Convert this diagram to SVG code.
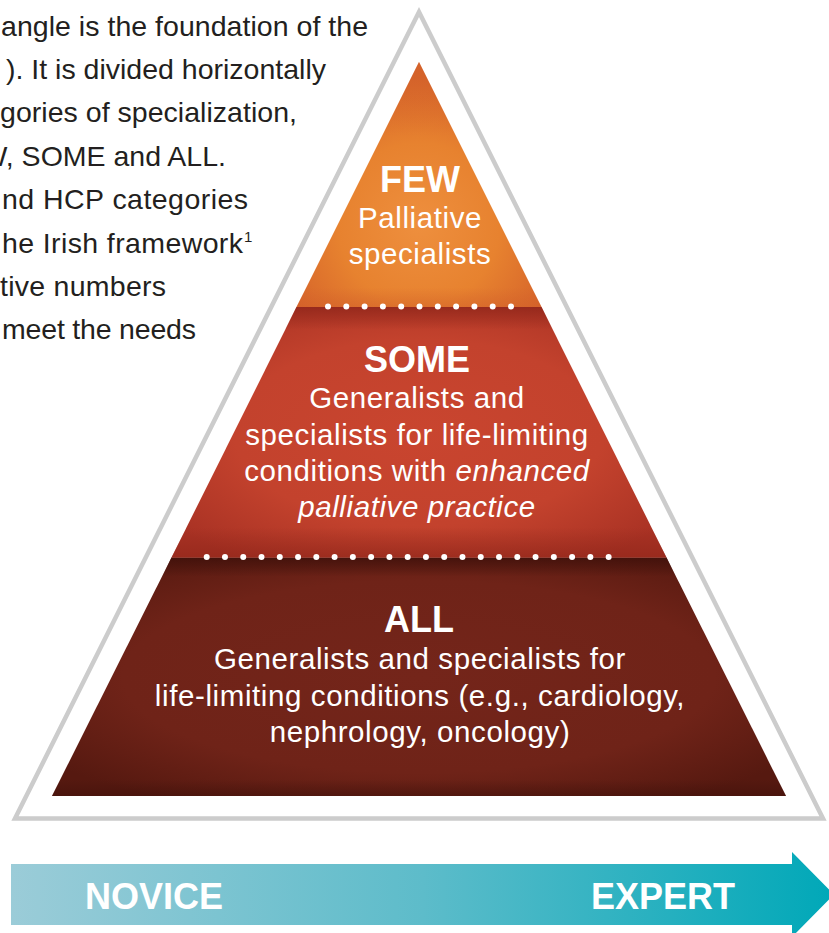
<svg xmlns="http://www.w3.org/2000/svg" width="829" height="933" viewBox="0 0 829 933">
  <defs>
    <radialGradient id="gFew" cx="0.5" cy="0.66" r="0.6">
      <stop offset="0" stop-color="#EE8F3E"/>
      <stop offset="0.55" stop-color="#E7822F"/>
      <stop offset="1" stop-color="#D6642A"/>
    </radialGradient>
    <radialGradient id="gSome" cx="0.5" cy="0.5" r="0.62">
      <stop offset="0" stop-color="#C9452F"/>
      <stop offset="0.6" stop-color="#C3422D"/>
      <stop offset="1" stop-color="#A93224"/>
    </radialGradient>
    <radialGradient id="gAll" cx="0.5" cy="0.5" r="0.62">
      <stop offset="0" stop-color="#74251A"/>
      <stop offset="0.65" stop-color="#6F2318"/>
      <stop offset="1" stop-color="#561910"/>
    </radialGradient>
    <linearGradient id="shSome" x1="0" y1="0" x2="0" y2="1">
      <stop offset="0" stop-color="#8E2519" stop-opacity="0.75"/>
      <stop offset="0.09" stop-color="#8E2519" stop-opacity="0"/>
      <stop offset="0.88" stop-color="#8E2519" stop-opacity="0"/>
      <stop offset="1" stop-color="#8E2519" stop-opacity="0.6"/>
    </linearGradient>
    <linearGradient id="shAll" x1="0" y1="0" x2="0" y2="1">
      <stop offset="0" stop-color="#3E100A" stop-opacity="0.8"/>
      <stop offset="0.08" stop-color="#3E100A" stop-opacity="0"/>
      <stop offset="0.93" stop-color="#3E100A" stop-opacity="0"/>
      <stop offset="1" stop-color="#3E100A" stop-opacity="0.5"/>
    </linearGradient>
    <linearGradient id="shFew" x1="0" y1="0" x2="0" y2="1">
      <stop offset="0" stop-color="#D2602A" stop-opacity="0.5"/>
      <stop offset="0.3" stop-color="#D2602A" stop-opacity="0"/>
      <stop offset="0.92" stop-color="#D2602A" stop-opacity="0"/>
      <stop offset="1" stop-color="#D2602A" stop-opacity="0.5"/>
    </linearGradient>
    <linearGradient id="gArrow" x1="11" y1="0" x2="834" y2="0" gradientUnits="userSpaceOnUse">
      <stop offset="0" stop-color="#9BCCD8"/>
      <stop offset="0.5" stop-color="#5DBCCA"/>
      <stop offset="1" stop-color="#00A8B8"/>
    </linearGradient>
    <style>
      .para { font-family: "Liberation Sans", Arial, sans-serif; font-size: 28.5px; fill: #231F20; }
      .pe { text-anchor: end; }
      .sup { font-family: "Liberation Sans", Arial, sans-serif; font-size: 15px; fill: #231F20; }
      .head { font-family: "Liberation Sans", Arial, sans-serif; font-size: 36px; font-weight: bold; fill: #FFFFFF; text-anchor: middle; }
      .body { font-family: "Liberation Sans", Arial, sans-serif; font-size: 29.5px; letter-spacing: 0.6px; fill: #FFFFFF; text-anchor: middle; }
      .it { font-style: italic; }
      .dots { stroke: #FFFFFF; stroke-width: 6; stroke-linecap: round; fill: none; }
      .arrowtxt { font-family: "Liberation Sans", Arial, sans-serif; font-size: 36px; font-weight: bold; fill: #FFFFFF; }
    </style>
  </defs>

  <g id="paragraph">
    <text class="para" x="1" y="35.5" textLength="367">angle is the foundation of the</text>
    <text class="para pe" x="326" y="79">). It is divided horizontally</text>
    <text class="para" x="0" y="122.3" textLength="297">gories of specialization,</text>
    <text class="para pe" x="226" y="165.7">W, SOME and ALL.</text>
    <text class="para" x="2" y="209.1" textLength="246">nd HCP categories</text>
    <text class="para" x="2" y="252.5" textLength="241">he Irish framework</text>
    <text class="sup" x="244" y="241.5">1</text>
    <text class="para" x="0" y="295.9" textLength="166">tive numbers</text>
    <text class="para" x="2" y="339.3" textLength="194">meet the needs</text>
  </g>

  <g id="outer-frame">
    <polygon points="419,12 15,818.5 823,818.5" fill="none" stroke="#CCCCCC" stroke-width="4.5" stroke-linejoin="miter" stroke-miterlimit="10"/>
  </g>

  <g id="all">
    <polygon points="171.5,557.5 666.5,557.5 786,796 52,796" fill="url(#gAll)"/>
    <polygon points="171.5,557.5 666.5,557.5 786,796 52,796" fill="url(#shAll)"/>
    <text class="head" x="419" y="632">ALL</text>
    <text class="body" x="420" y="669">Generalists and specialists for</text>
    <text class="body" x="420" y="705.5">life-limiting conditions (e.g., cardiology,</text>
    <text class="body" x="420" y="742">nephrology, oncology)</text>
  </g>

  <g id="some">
    <polygon points="296.5,307 541.5,307 666.5,557.5 171.5,557.5" fill="url(#gSome)"/>
    <polygon points="296.5,307 541.5,307 666.5,557.5 171.5,557.5" fill="url(#shSome)"/>
    <text class="head" x="417" y="372">SOME</text>
    <text class="body" x="417" y="408">Generalists and</text>
    <text class="body" x="417" y="444.5">specialists for life-limiting</text>
    <text class="body" x="417" y="481">conditions with <tspan class="it">enhanced</tspan></text>
    <text class="body it" x="417" y="517">palliative practice</text>
  </g>

  <g id="few">
    <polygon points="419,62 541.5,307 296.5,307" fill="url(#gFew)"/>
    <polygon points="419,62 541.5,307 296.5,307" fill="url(#shFew)"/>
    <text class="head" x="420" y="192">FEW</text>
    <text class="body" x="420" y="228">Palliative</text>
    <text class="body" x="420" y="263.5">specialists</text>
  </g>

  <g id="dividers">
    <line class="dots" x1="328" y1="306.5" x2="511" y2="306.5" stroke-dasharray="0 18.3"/>
    <line class="dots" x1="206.7" y1="557" x2="626.9" y2="557" stroke-dasharray="0 18.27"/>
  </g>

  <g id="arrow">
    <polygon points="11,864 792,864 792,852 834,894.5 792,937 792,925 11,925" fill="url(#gArrow)"/>
    <text class="arrowtxt" x="85" y="909">NOVICE</text>
    <text class="arrowtxt" x="591" y="909">EXPERT</text>
  </g>
</svg>
